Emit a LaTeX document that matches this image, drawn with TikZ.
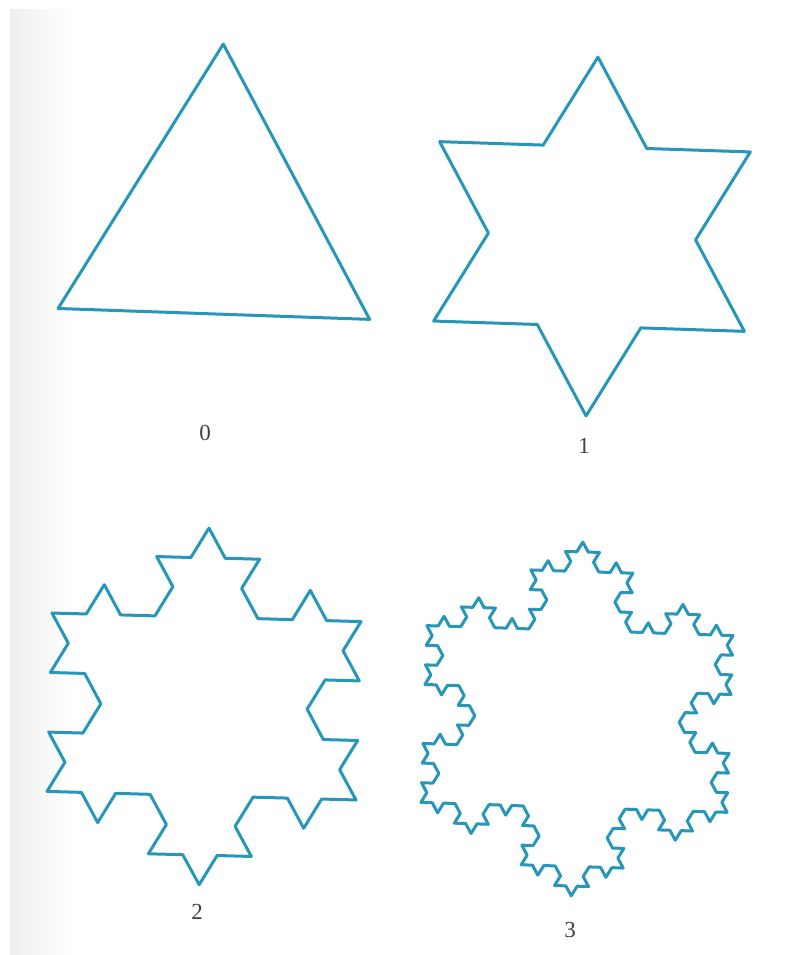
\documentclass[tikz,border=0pt]{standalone}
\usepackage{fontspec}
\setmainfont{Liberation Serif}
\usepackage{tikz}
\usetikzlibrary{decorations.fractals}
\definecolor{kochblue}{RGB}{38,150,185}
\definecolor{pageshade}{RGB}{238,238,236}
\tikzset{
  koch/.style={draw=kochblue,line width=3pt,line join=round,line cap=round,
    decoration=Koch snowflake},
  stagelab/.style={font=\fontsize{23}{23}\selectfont,text=black!75,inner sep=0pt}
}

\begin{document}
\begin{tikzpicture}[x=1pt,y=1pt]
  \useasboundingbox (0,0) rectangle (804,955);
  \fill[white] (0,0) rectangle (804,955);
  \shade[left color=pageshade,right color=white] (10,0) rectangle (70,945);
  % stage 0: the triangle
  \begin{scope}[shift={(217,731)},rotate=-2]
    \draw[koch] (90:180) -- (-30:180) -- (210:180) -- cycle;
  \end{scope}
  % stage 1
  \begin{scope}[shift={(592,718.5)},rotate=-1.9]
    \draw[koch] decorate{(90:179.5) -- (-30:179.5) -- (210:179.5) -- (90:179.5)};
  \end{scope}
  % stage 2
  \begin{scope}[shift={(204,248.5)},rotate=-1.6]
    \draw[koch] decorate{decorate{(90:178.5) -- (-30:178.5) -- (210:178.5) -- (90:178.5)}};
  \end{scope}
  % stage 3
  \begin{scope}[shift={(577,236)},rotate=-1.9]
    \draw[koch] decorate{decorate{decorate{(90:177) -- (-30:177) -- (210:177) -- (90:177)}}};
  \end{scope}
  \node[stagelab] (lab0) at (205,522) {0};
  \node[stagelab] (lab1) at (584,509) {1};
  \node[stagelab] (lab2) at (197,43) {2};
  \node[stagelab] (lab3) at (570,25) {3};
\end{tikzpicture}
\end{document}
